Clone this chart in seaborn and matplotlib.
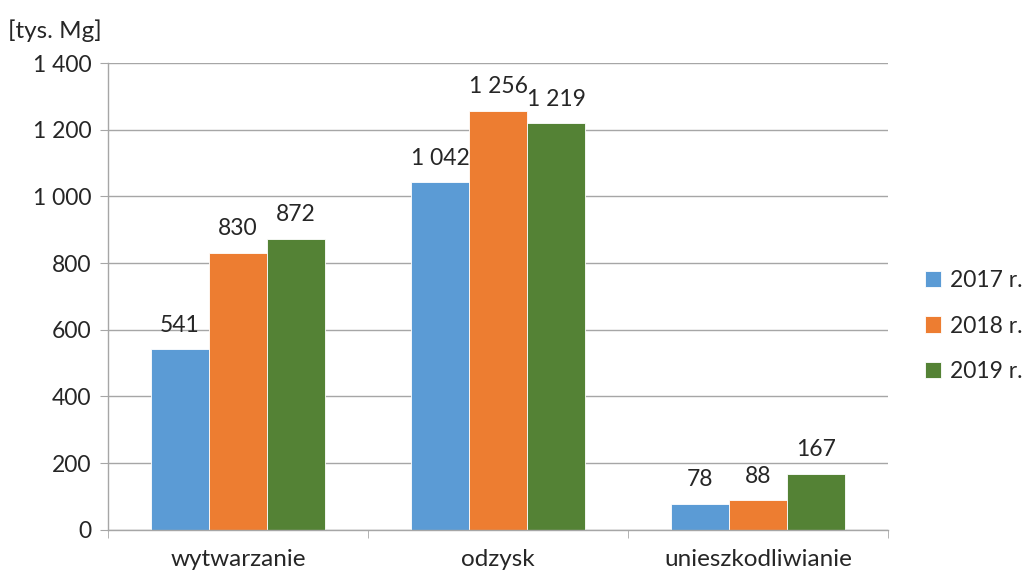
import pandas as pd
import seaborn as sns
import matplotlib.pyplot as plt
from matplotlib.ticker import FuncFormatter

# dane z wykresu
kategorie = ['wytwarzanie', 'odzysk', 'unieszkodliwianie']
lata = ['2017 r.', '2018 r.', '2019 r.']
w_2017 = [541, 1042, 78]
w_2018 = [830, 1256, 88]
w_2019 = [872, 1219, 167]
kolory = ['#5B9BD5', '#ED7D31', '#548235']

df = pd.DataFrame({
    'kategoria': kategorie * 3,
    'rok': [lata[0]] * 3 + [lata[1]] * 3 + [lata[2]] * 3,
    'wartosc': w_2017 + w_2018 + w_2019,
})

sns.set_style('white')
plt.rcParams['font.family'] = ['Lato', 'DejaVu Sans']
fs = 16.5

fig = plt.figure(figsize=(10.3, 5.74), dpi=100)
ax = fig.add_axes([0.105, 0.077, 0.757, 0.813])

sns.barplot(data=df, x='kategoria', y='wartosc', hue='rok', palette=kolory,
            width=0.67, saturation=1, ax=ax, linewidth=0.6, edgecolor='white')

fmt = lambda v: f'{int(v):,}'.replace(',', ' ')
for cont in ax.containers:
    ax.bar_label(cont, labels=[fmt(b.get_height()) for b in cont], padding=10, fontsize=fs)

ax.set_ylim(0, 1400)
ax.set_xlim(-0.5, 2.5)
ax.set_yticks(range(0, 1401, 200))
ax.yaxis.set_major_formatter(FuncFormatter(lambda v, p: fmt(v)))
ax.grid(axis='y', color='#A6A6A6', linewidth=1)
ax.set_axisbelow(True)

ax.set_xticks([-0.5, 0.5, 1.5, 2.5], minor=True)
ax.tick_params(axis='x', which='major', length=0, pad=14, labelsize=fs + 1)
ax.tick_params(axis='x', which='minor', length=6, color='#A6A6A6', direction='out', bottom=True)
ax.tick_params(axis='y', length=6, color='#A6A6A6', left=True, labelsize=fs, pad=6)

for s in ['top', 'right']:
    ax.spines[s].set_visible(False)
for s in ['left', 'bottom']:
    ax.spines[s].set_color('#A6A6A6')
    ax.spines[s].set_linewidth(1)

ax.set_xlabel('')
ax.set_ylabel('')

handles, labels = ax.get_legend_handles_labels()
ax.get_legend().remove()
fig.legend(handles, labels, frameon=False, loc='center left', bbox_to_anchor=(0.898, 0.432),
           borderaxespad=0, borderpad=0, fontsize=fs, handlelength=0.7, handleheight=0.7,
           handletextpad=0.4, labelspacing=1.05)

fig.text(0.008, 0.947, '[tys. Mg]', fontsize=fs + 1, va='center', ha='left')

fig.savefig('out.png', dpi=100)
